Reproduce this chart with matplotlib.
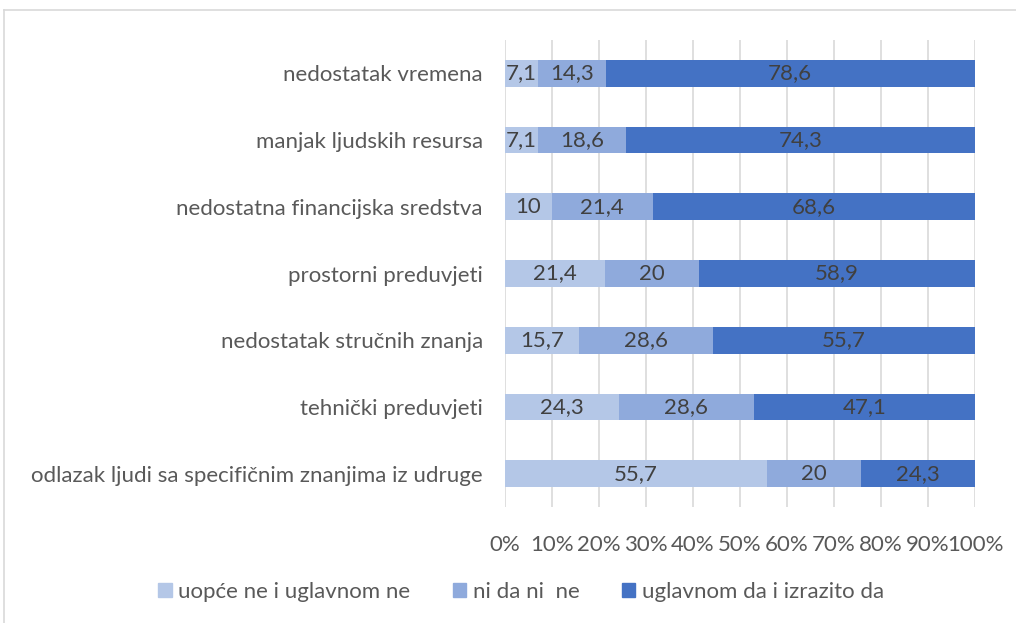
import numpy as np
import matplotlib.pyplot as plt
from matplotlib.lines import Line2D

plt.rcParams['font.family'] = ['Lato', 'DejaVu Sans']

categories = [
    "nedostatak vremena",
    "manjak ljudskih resursa",
    "nedostatna financijska sredstva",
    "prostorni preduvjeti",
    "nedostatak stručnih znanja",
    "tehnički preduvjeti",
    "odlazak ljudi sa specifičnim znanjima iz udruge",
]
series_names = ["uopće ne i uglavnom ne", "ni da ni  ne", "uglavnom da i izrazito da"]
ne = [7.1, 7.1, 10, 21.4, 15.7, 24.3, 55.7]
niti = [14.3, 18.6, 21.4, 20, 28.6, 28.6, 20]
da = [78.6, 74.3, 68.6, 58.9, 55.7, 47.1, 24.3]
labels_ne = ["7,1", "7,1", "10", "21,4", "15,7", "24,3", "55,7"]
labels_niti = ["14,3", "18,6", "21,4", "20", "28,6", "28,6", "20"]
labels_da = ["78,6", "74,3", "68,6", "58,9", "55,7", "47,1", "24,3"]
colors = ["#B4C7E7", "#8FAADC", "#4472C4"]

fs = 16

fig = plt.figure(figsize=(10.16, 6.23), dpi=100)
ax = fig.add_axes([505 / 1016, 1 - 507 / 623, 470 / 1016, 467 / 623])

y = np.arange(len(categories))
data = [ne, niti, da]
labs = [labels_ne, labels_niti, labels_da]
totals = np.array(ne) + np.array(niti) + np.array(da)
left = np.zeros(len(categories))
for vals, lab, col, name in zip(data, labs, colors, series_names):
    w = np.array(vals) / totals
    bars = ax.barh(y, w, left=left, height=0.4, color=col, label=name, zorder=2)
    ax.bar_label(bars, labels=lab, label_type='center', color='#404040', fontsize=fs)
    left += w

ax.set_xlim(0, 1)
ax.set_ylim(len(categories) - 0.5, -0.5)
ax.set_xticks(np.linspace(0, 1, 11))
ax.set_xticklabels([f"{i}%" for i in range(0, 101, 10)], color='#595959', fontsize=fs)
ax.set_yticks(y)
ax.set_yticklabels(categories, color='#595959', fontsize=fs)
ax.tick_params(axis='y', length=0, pad=16)
ax.tick_params(axis='x', length=0, pad=20)
ax.grid(axis='x', color='#D9D9D9', lw=1.2, zorder=0)
for s in ax.spines.values():
    s.set_visible(False)

handles = [plt.Rectangle((0, 0), 1, 1, color=c) for c in colors]
fig.legend(handles, series_names, loc='center', bbox_to_anchor=(0.513, 1 - 592 / 623),
           ncol=3, frameon=False, fontsize=fs, labelcolor='#595959',
           handlelength=0.6, handleheight=0.6, handletextpad=0.3, columnspacing=1.9)

# frame lines (top and left)
fig.add_artist(Line2D([4 / 1016, 1], [1 - 10 / 623, 1 - 10 / 623], color='#D9D9D9', lw=1.2))
fig.add_artist(Line2D([4 / 1016, 4 / 1016], [0, 1 - 10 / 623], color='#D9D9D9', lw=1.2))

fig.savefig("out.png", dpi=100, facecolor='white')
